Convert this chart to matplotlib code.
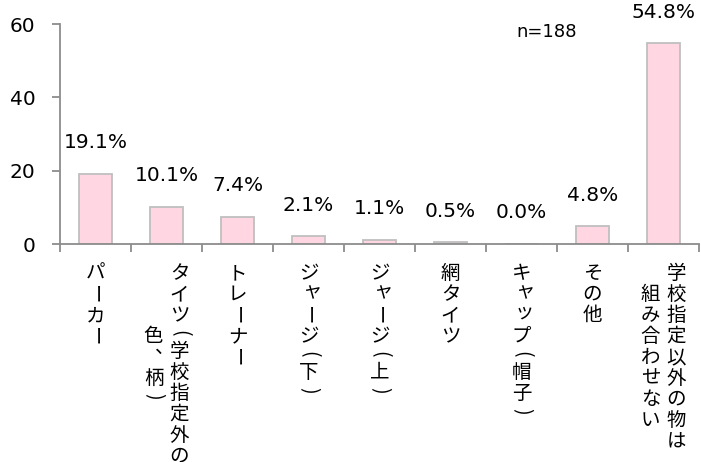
import numpy as np
import matplotlib.pyplot as plt


categories = [
    "パーカー",
    "タイツ(学校指定外の\n色、柄)",
    "トレーナー",
    "ジャージ(下)",
    "ジャージ(上)",
    "網タイツ",
    "キャップ(帽子)",
    "その他",
    "学校指定以外の物は\n組み合わせない",
]
values = [19.1, 10.1, 7.4, 2.1, 1.1, 0.5, 0.0, 4.8, 54.8]
y_ticks = [0, 20, 40, 60]
sample_note = "n=188"

JP_FONT = ["Noto Sans CJK JP", "DejaVu Sans"]
NUM_FONT = ["DejaVu Sans"]
AXIS_GRAY = "#8c8c8c"

SMALL_KANA = set("ャュョッァィゥェォ")
ROTATED = set("ー（）()")


def draw_vertical_label(ax, x, text, top=19, pitch=21, col_gap=26):
    # fake tate-gaki: one character per row, columns read right to left
    lines = text.split("\n")

    def advance(ch):
        return 15 if ch in "（）()" else pitch

    lengths = [sum(advance(c) for c in ln) for ln in lines]
    longest = max(lengths)
    n = len(lines)
    for j, ln in enumerate(lines):
        dx = (n - 1) / 2 * col_gap - j * col_gap
        y = -top - (longest - lengths[j]) / 2
        for ch in ln:
            a = advance(ch)
            ox, oy = 0, 0
            if ch in SMALL_KANA:
                ox, oy = 3, 3
            if ch == "、":
                ox, oy = 11, 10
            ax.annotate(ch, xy=(x, 0), xytext=(dx + ox, y - a / 2 + oy),
                        textcoords="offset pixels", ha="center", va="center",
                        rotation=-90 if ch in ROTATED else 0,
                        fontsize=14, family=JP_FONT, annotation_clip=False)
            y -= a


fig = plt.figure(figsize=(7.01, 4.62), dpi=100)
ax = fig.add_axes([60 / 701, 1 - 244 / 462, 639 / 701, 220 / 462])

x = np.arange(len(values))
ax.bar(x, values, width=0.46, color="#ffd6e1", edgecolor="#bfbfbf", linewidth=1.3, zorder=2)

for i, v in enumerate(values):
    ax.annotate(f"{v:.1f}%", xy=(i, v), xytext=(0, 31), textcoords="offset pixels",
                ha="center", va="center", fontsize=14.5, family=NUM_FONT)

for i, label in enumerate(categories):
    draw_vertical_label(ax, i, label)

ax.text(6.35, 57.8, sample_note, ha="center", va="center", fontsize=13, family=NUM_FONT)

ax.set_xlim(-0.5, len(values) - 0.5)
ax.set_ylim(0, 60)
ax.set_yticks(y_ticks)
ax.set_yticklabels([str(t) for t in y_ticks], fontsize=14.5, family=NUM_FONT)
ax.set_xticks(np.arange(len(values) + 1) - 0.5)
ax.set_xticklabels([])

for side in ["top", "right"]:
    ax.spines[side].set_visible(False)
for side in ["left", "bottom"]:
    ax.spines[side].set_color(AXIS_GRAY)
    ax.spines[side].set_linewidth(1.3)
ax.tick_params(axis="both", color=AXIS_GRAY, width=1.3, length=5.5)
ax.tick_params(axis="y", pad=12)

fig.savefig("out.png", dpi=100)
